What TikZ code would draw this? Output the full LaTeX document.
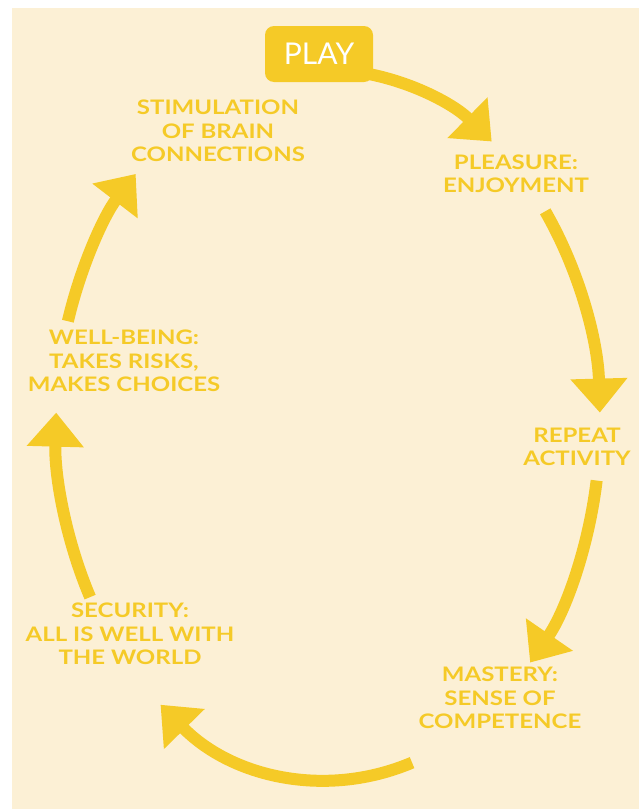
\documentclass[tikz,border=0pt]{standalone}
\usepackage{fontspec}
\setmainfont{Lato}
\newfontfamily\stagefont{Lato}[FakeStretch=1.2]
\usetikzlibrary{arrows.meta}
\definecolor{cream}{HTML}{FCF0D5}
\definecolor{gold}{HTML}{F5CA27}
\tikzset{
  stage/.style={align=center, text=gold, font=\stagefont\fontsize{20}{23.5}\selectfont\bfseries},
  flow/.style={draw=gold, line width=12pt, -{Triangle[length=34pt,width=55pt]}},
  playbox/.style={fill=gold, rounded corners=9pt, minimum width=108pt, minimum height=56pt,
    text=white, font=\fontsize{30}{30}\selectfont}
}
\def\rx{272}
\def\ry{355}

\begin{document}
\begin{tikzpicture}[x=1pt,y=-1pt]
  \useasboundingbox (0,0) rectangle (639,809);
  \fill[cream] (12,8) rectangle (639,809);

  \coordinate (c) at (328,425);

  %%% Cycle %%%
  \foreach \i/\a/\b in {1/-84/-53, 2/-37/-2, 3/9/42, 4/72/128, 5/151/182, 6/197/225}{
      \coordinate (s\i) at ([shift={(\a:{\rx} and {\ry})}]c);
      \draw[flow] (s\i) arc[start angle=\a, end angle=\b, x radius=\rx, y radius=\ry];
    }

  \node[playbox] (play) at (319,54) {PLAY};

  \node[stage] (stim) at (218,131) {STIMULATION\\OF BRAIN\\CONNECTIONS};
  \node[stage] (pleas) at (516,174) {PLEASURE:\\ENJOYMENT};
  \node[stage] (rep) at (577,447) {REPEAT\\ACTIVITY};
  \node[stage] (mast) at (500,698) {MASTERY:\\SENSE OF\\COMPETENCE};
  \node[stage] (sec) at (130,634) {SECURITY:\\ALL IS WELL WITH\\THE WORLD};
  \node[stage] (well) at (124,361) {WELL-BEING:\\TAKES RISKS,\\MAKES CHOICES};
\end{tikzpicture}
\end{document}
